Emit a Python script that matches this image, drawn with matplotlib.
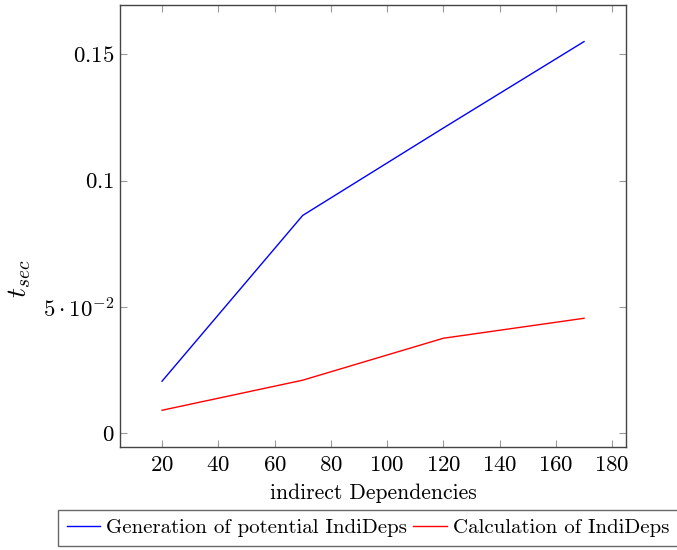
"""Runtime of IndiDeps generation vs. calculation over indirect dependencies."""

import matplotlib
matplotlib.use("Agg")
import matplotlib.pyplot as plt

# data
deps = [20, 70, 120, 170]
gen_time = [0.0206, 0.0862, 0.1208, 0.1550]
calc_time = [0.0091, 0.0210, 0.0376, 0.0455]

x_ticks = [20, 40, 60, 80, 100, 120, 140, 160, 180]
y_ticks = [0, 0.05, 0.1, 0.15]
y_tick_labels = ["$0$", r"$5\cdot10^{-2}$", "$0.1$", "$0.15$"]

plt.rcParams["mathtext.fontset"] = "cm"
plt.rcParams["font.family"] = ["cmr10", "DejaVu Serif"]
plt.rcParams["axes.formatter.use_mathtext"] = True

fig = plt.figure(figsize=(6.77, 5.5), dpi=100)
ax = fig.add_axes([0.177, 0.187, 0.748, 0.804])

ax.plot(deps, gen_time, color="blue", lw=1.0, label="Generation of potential IndiDeps")
ax.plot(deps, calc_time, color="red", lw=1.0, label="Calculation of IndiDeps")

ax.set_xlim(5, 185)
ax.set_ylim(-0.0055, 0.1695)
ax.set_xticks(x_ticks)
ax.set_xticklabels([f"${t}$" for t in x_ticks])
ax.set_yticks(y_ticks)
ax.set_yticklabels(y_tick_labels)
ax.tick_params(direction="in", length=5, width=0.8, color="#999999",
               top=True, right=True, labelsize=16.5)
ax.tick_params(axis="y", pad=4)
ax.tick_params(axis="x", pad=6)
for sp in ax.spines.values():
    sp.set_color("#444444")
    sp.set_linewidth(1.0)

ax.set_xlabel("indirect Dependencies", fontsize=15.5, labelpad=6)
ax.set_ylabel("$t_{sec}$", fontsize=20)
ax.yaxis.set_label_coords(-0.172, 0.38)

leg = fig.legend(loc="upper left", bbox_to_anchor=(0.086, 0.072), ncol=2,
                 fontsize=15, frameon=True, fancybox=False, handlelength=1.6,
                 handletextpad=0.3, columnspacing=0.3, borderpad=0.4,
                 borderaxespad=0)
leg.get_frame().set_edgecolor("#444444")
leg.get_frame().set_linewidth(1.0)

fig.savefig("out.png", dpi=100)
